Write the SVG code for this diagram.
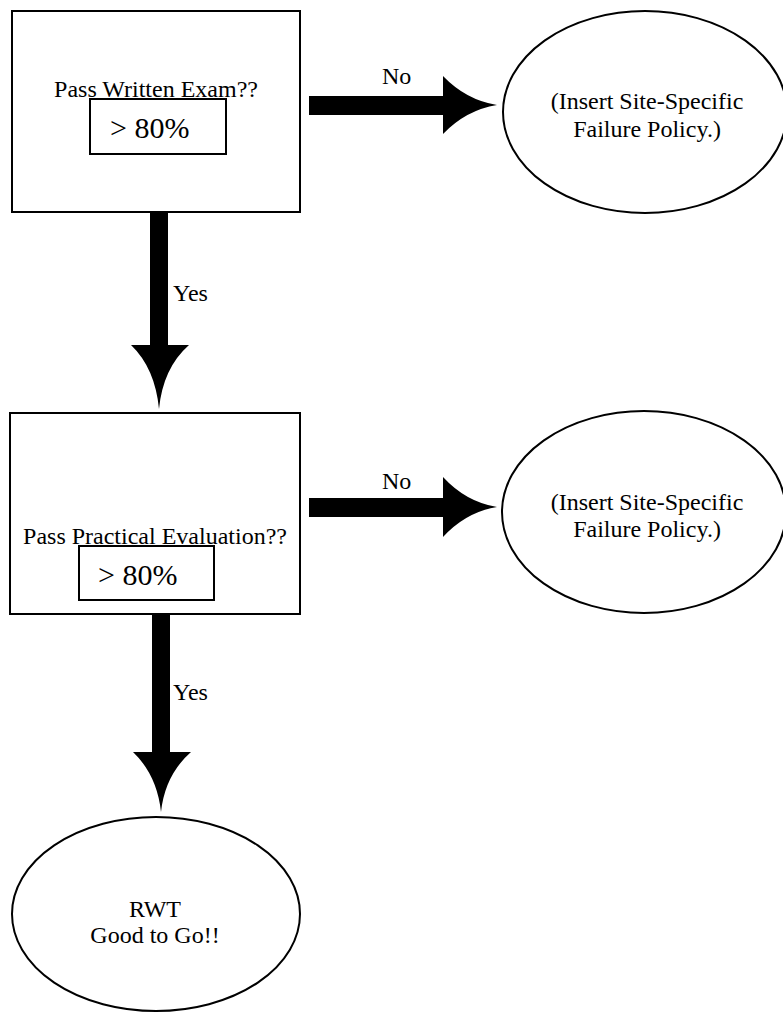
<svg xmlns="http://www.w3.org/2000/svg" width="783" height="1012" viewBox="0 0 783 1012">
<style>
.box{fill:#fff;stroke:#000;stroke-width:2}
.ell{fill:#fff;stroke:#000;stroke-width:2}
.t{font-family:"Liberation Serif","Times New Roman",serif;font-size:24px;fill:#000}
.big{font-family:"Liberation Serif","Times New Roman",serif;font-size:30px;fill:#000}
.c{text-anchor:middle}
.arrow{fill:#000;stroke:none}
</style>
<rect width="783" height="1012" fill="#fff"/>
<g id="connectors">
  <path class="arrow" d="M150,212 L168,212 L168,345 L189,345 Q163,368 159,409 Q155,368 131,345 L150,345 Z"/>
  <path class="arrow" d="M152,614 L170,614 L170,752 L191,752 Q165,775 161,812 Q157,775 133,752 L152,752 Z"/>
  <path class="arrow" d="M309,96 L443,96 L443,76 Q466,100 497,105 Q466,110 443,134 L443,115 L309,115 Z"/>
  <path class="arrow" d="M309,498 L443,498 L443,477 Q466,502 497,507 Q466,512 443,537 L443,517 L309,517 Z"/>
  <text class="t" x="173" y="301">Yes</text>
  <text class="t" x="173" y="700">Yes</text>
  <text class="t" x="382" y="84">No</text>
  <text class="t" x="382" y="489">No</text>
</g>
<g id="node-written">
  <rect class="box" x="12" y="11" width="288" height="201"/>
  <text class="t c" x="156" y="97">Pass Written Exam??</text>
  <rect class="box" x="90" y="99" width="136" height="55"/>
  <text class="big" x="110" y="138">&gt; 80%</text>
</g>
<g id="node-fail1">
  <ellipse class="ell" cx="645" cy="112" rx="142" ry="101"/>
  <text class="t c" x="647" y="109">(Insert Site-Specific</text>
  <text class="t c" x="647" y="137">Failure Policy.)</text>
</g>
<g id="node-practical">
  <rect class="box" x="10" y="413" width="290" height="201"/>
  <text class="t c" x="155" y="544">Pass Practical Evaluation??</text>
  <rect class="box" x="79" y="546" width="135" height="54"/>
  <text class="big" x="98" y="585">&gt; 80%</text>
</g>
<g id="node-fail2">
  <ellipse class="ell" cx="644" cy="512" rx="142" ry="101"/>
  <text class="t c" x="647" y="510">(Insert Site-Specific</text>
  <text class="t c" x="647" y="537">Failure Policy.)</text>
</g>
<g id="node-rwt">
  <ellipse class="ell" cx="156" cy="914" rx="144" ry="97"/>
  <text class="t c" x="155" y="917">RWT</text>
  <text class="t c" x="155" y="943">Good to Go!!</text>
</g>
</svg>
